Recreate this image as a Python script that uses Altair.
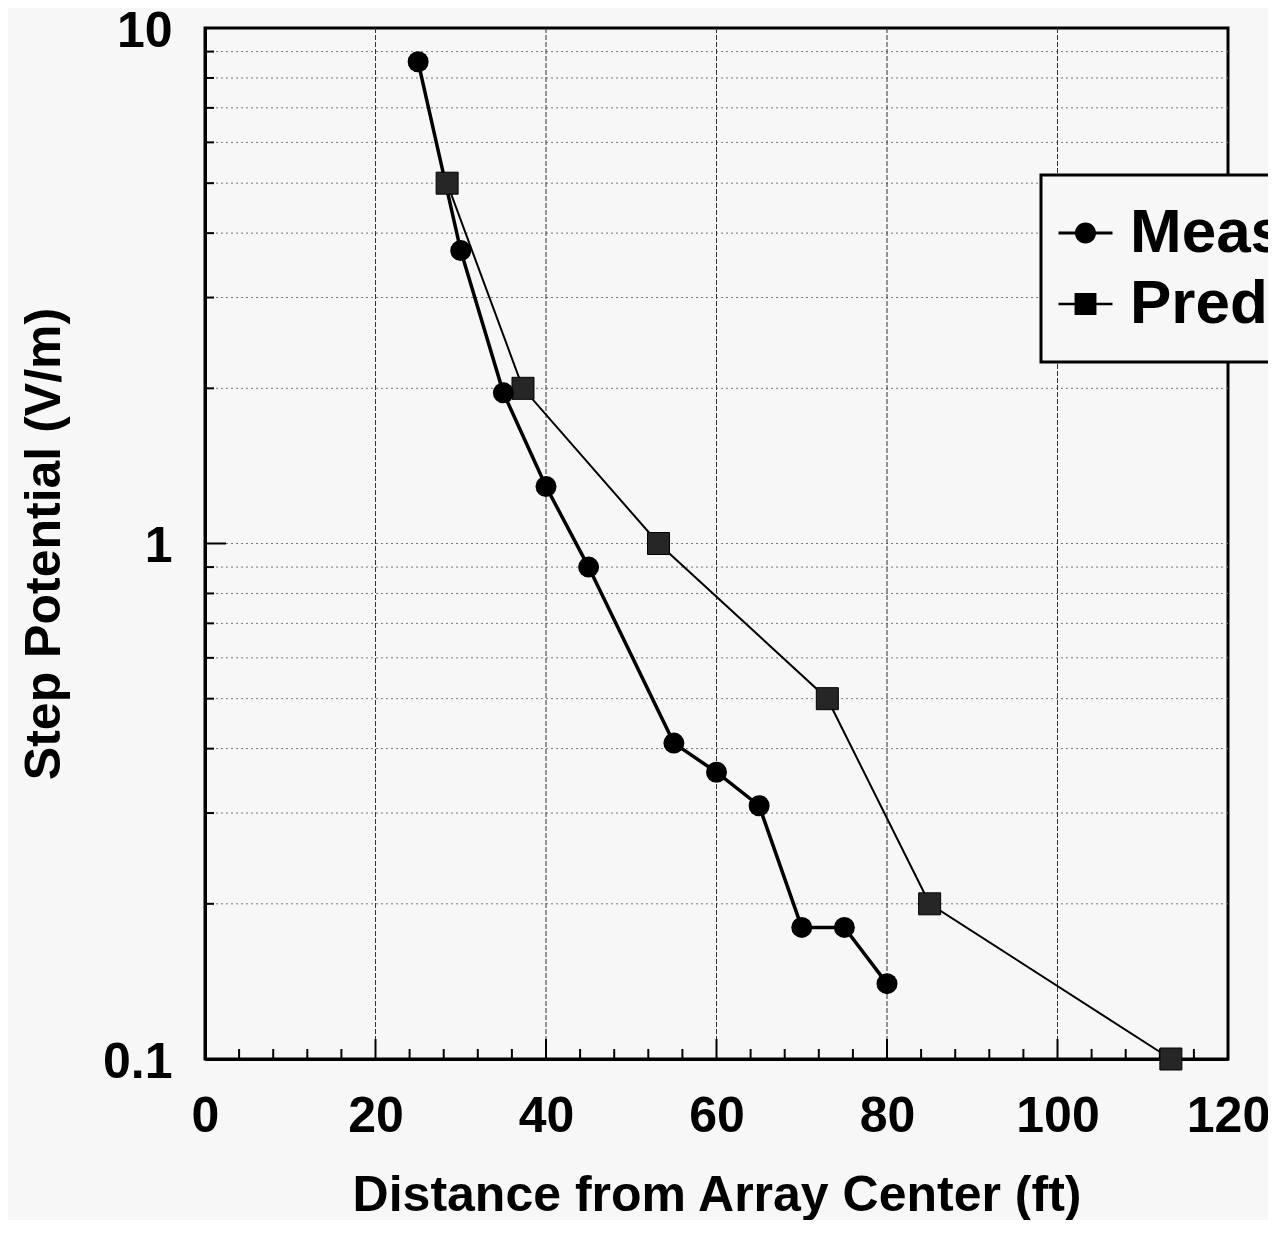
import altair as alt
import pandas as pd

# ---- data ----
meas_x = [25, 30, 35, 40, 45, 55, 60, 65, 70, 75, 80]
meas_y = [8.6, 3.7, 1.96, 1.29, 0.90, 0.41, 0.36, 0.31, 0.18, 0.18, 0.14]
pred_x = [28.4, 37.3, 53.2, 73.0, 85.0, 113.3]
pred_y = [5.0, 2.0, 1.0, 0.5, 0.2, 0.1]

series_names = ["Measured", "Predicted"]
x_major = [0, 20, 40, 60, 80, 100, 120]
x_grid = [20, 40, 60, 80, 100]
x_minor = [v for v in range(4, 120, 4) if v % 20 != 0]
y_labels = [0.1, 1, 10]
y_minor = [0.2, 0.3, 0.4, 0.5, 0.6, 0.7, 0.8, 0.9, 2, 3, 4, 5, 6, 7, 8, 9]
y_grid = y_minor + [1]

W, H = 1023, 1031
FONT = "Liberation Sans"
BG = "#f7f7f7"

meas = pd.DataFrame({"x": meas_x, "y": meas_y, "s": "Measured"})
pred = pd.DataFrame({"x": pred_x, "y": pred_y, "s": "Predicted"})

xs = alt.Scale(domain=[0, 120], nice=False, zero=False)
ys = alt.Scale(type="log", domain=[0.1, 10], nice=False)

xax = alt.Axis(values=x_major, ticks=False, grid=False, labelFontSize=50, labelFont=FONT,
               labelFontWeight="bold", labelColor="black", labelPadding=32,
               domainColor="black", domainWidth=3,
               title="Distance from Array Center (ft)", titleFont=FONT, titleFontSize=50,
               titleFontWeight="bold", titleColor="black", titleBaseline="alphabetic",
               titleY=151, labelFlush=False)
yax = alt.Axis(values=y_labels, format="~g", ticks=False, grid=False, labelFontSize=50,
               labelFont=FONT, labelFontWeight="bold", labelColor="black", labelPadding=33,
               labelOffset=3, domainColor="black", domainWidth=3,
               title="Step Potential (V/m)", titleFont=FONT, titleFontSize=50,
               titleFontWeight="bold", titleColor="black", titleBaseline="alphabetic",
               titleX=-146, titleY=H / 2, labelFlush=False)

X = lambda: alt.X("x:Q", scale=xs, axis=xax)
Y = lambda: alt.Y("y:Q", scale=ys, axis=yax)

ygrid = alt.Chart(pd.DataFrame({"y": y_grid})).mark_rule(
    color="#777", strokeWidth=1, strokeDash=[2, 3]).encode(y=Y())
xgrid = alt.Chart(pd.DataFrame({"x": x_grid})).mark_rule(
    color="#333", strokeWidth=1, strokeDash=[5, 2]).encode(x=X())

ytick_minor = alt.Chart(pd.DataFrame({"y": y_minor})).mark_rule(
    color="black", strokeWidth=2).encode(y=Y(), x=alt.value(0), x2=alt.value(9))
ytick_major = alt.Chart(pd.DataFrame({"y": [1]})).mark_rule(
    color="black", strokeWidth=2).encode(y=Y(), x=alt.value(0), x2=alt.value(21))
xtick_minor = alt.Chart(pd.DataFrame({"x": x_minor})).mark_rule(
    color="black", strokeWidth=2).encode(x=X(), y=alt.value(H), y2=alt.value(H - 10))
xtick_major = alt.Chart(pd.DataFrame({"x": x_grid})).mark_rule(
    color="black", strokeWidth=2).encode(x=X(), y=alt.value(H), y2=alt.value(H - 20))

meas_line = alt.Chart(meas).mark_line(color="black", strokeWidth=3.5, clip=False).encode(
    x=X(), y=Y(), order=alt.Order("x:Q"))
meas_pts = alt.Chart(meas).mark_point(shape="circle", filled=True, size=441, color="black",
                                       opacity=1, clip=False).encode(x=X(), y=Y())
pred_line = alt.Chart(pred).mark_line(color="black", strokeWidth=2, clip=False).encode(
    x=X(), y=Y(), order=alt.Order("x:Q"))
pred_pts = alt.Chart(pred).mark_point(shape="square", filled=True, size=484, fill="#262626",
                                       stroke="black", strokeWidth=1, opacity=1,
                                       clip=False).encode(x=X(), y=Y())

# legend glyphs: a short line with the marker on it (filled outlines, unit = 13.5 px)
circle_path = ("M-3.0,-0.11L1.0,-0.11L1.0,0.11L-3.0,0.11Z"
               "M-0.22,0A0.78,0.78,0,1,1,-1.78,0A0.78,0.78,0,1,1,-0.22,0Z")
square_path = ("M-3.0,-0.09L1.0,-0.09L1.0,0.09L-3.0,0.09Z"
               "M-1.81,-0.81L-0.19,-0.81L-0.19,0.81L-1.81,0.81Z")

legend_layer = alt.Chart(pd.concat([meas, pred])).transform_filter("false").mark_point(
    filled=True, opacity=1, color="black").encode(
    x=X(), y=Y(),
    shape=alt.Shape("s:N", scale=alt.Scale(domain=series_names, range=[circle_path, square_path]),
                    legend=alt.Legend(title=None, orient="none", legendX=836, legendY=147,
                                      symbolSize=729, symbolFillColor="black",
                                      symbolStrokeWidth=0, symbolOpacity=1,
                                      labelFont=FONT, labelFontSize=62, labelFontWeight="bold",
                                      labelColor="black", labelLimit=2000, labelOffset=0,
                                      padding=27, rowPadding=9, fillColor=BG,
                                      strokeColor="black")),
)

chart = alt.layer(
    ygrid, xgrid, ytick_minor, ytick_major, xtick_minor, xtick_major,
    pred_line, meas_line, pred_pts, meas_pts, legend_layer
).properties(
    width=W, height=H,
    autosize=alt.AutoSizeParams(type="none"),
    padding={"left": 197, "top": 20, "right": 40, "bottom": 161},
    background=BG,
).configure_view(stroke="black", strokeWidth=3).configure_legend(strokeWidth=3)

chart.save("out.html", embed_options={"renderer": "svg", "actions": False})
